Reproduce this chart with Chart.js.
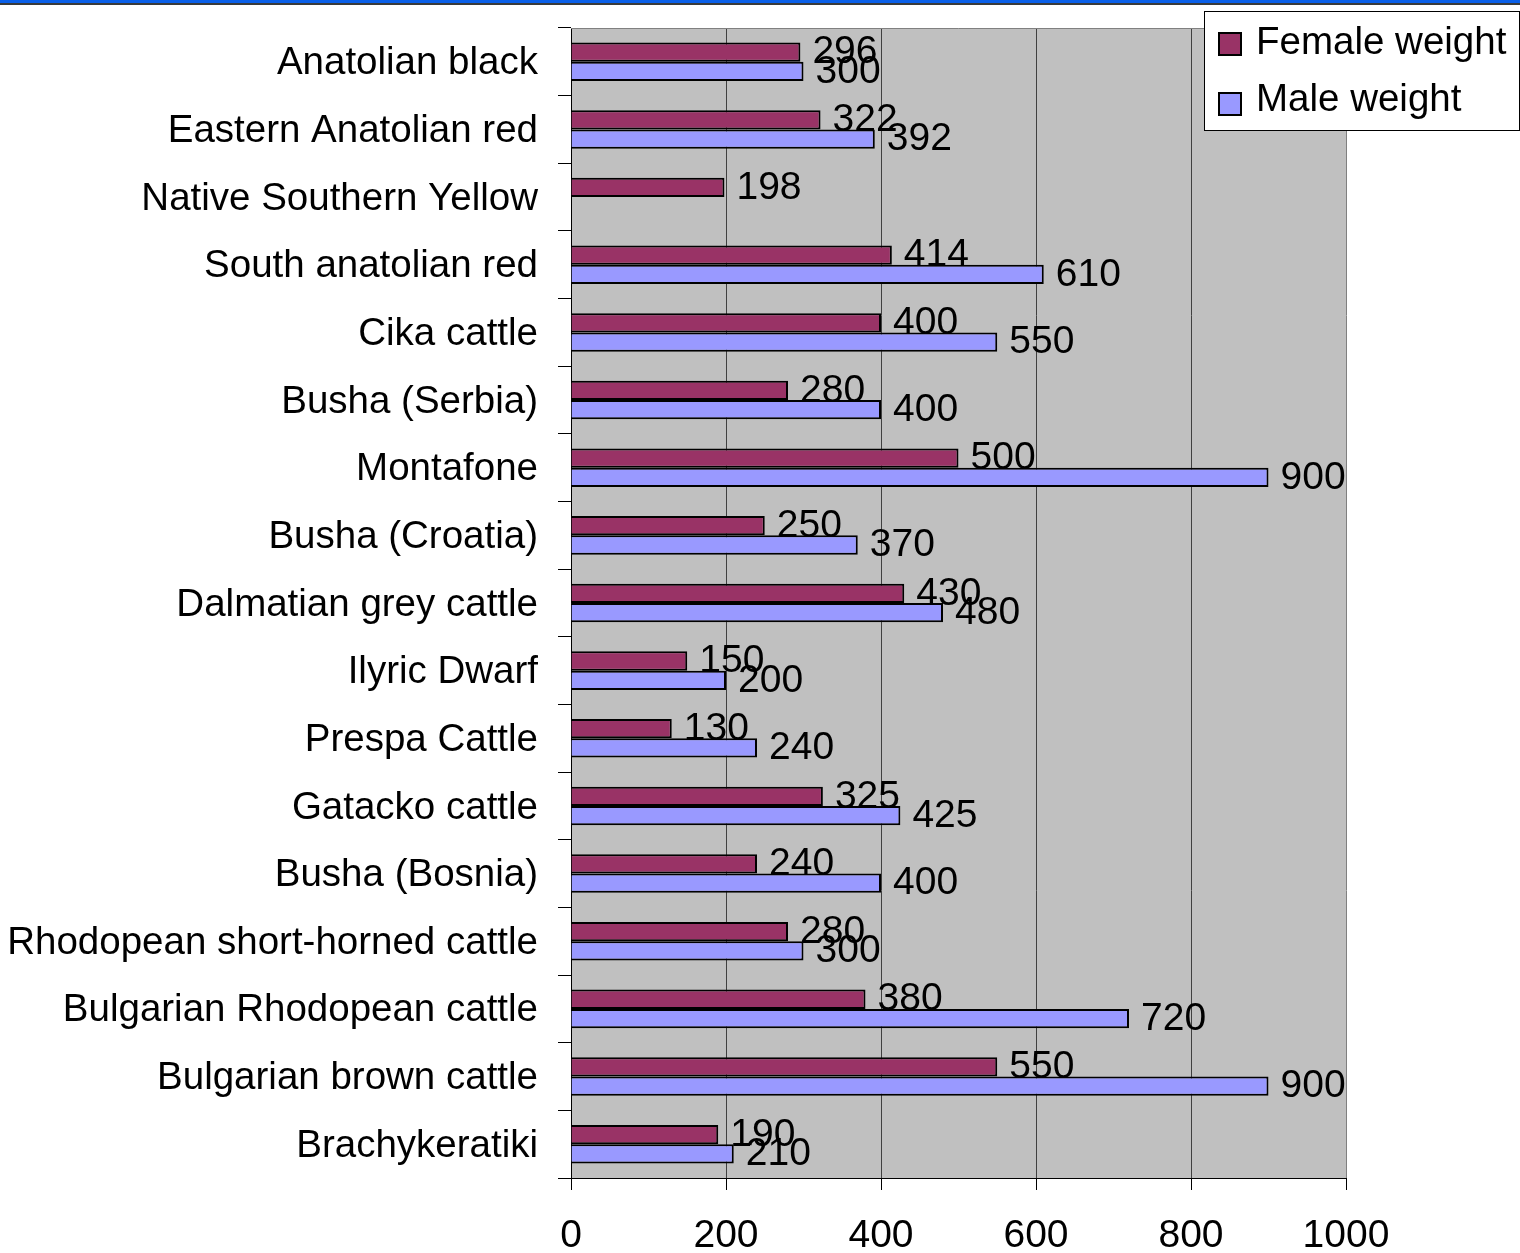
<!DOCTYPE html>
<html>
<head>
<meta charset="utf-8">
<script src="https://cdn.jsdelivr.net/npm/chart.js@4"></script>
<style>
  html, body { margin: 0; padding: 0; background: #ffffff; }
  canvas { display: block; }
</style>
</head>
<body>
<canvas id="c" width="1520" height="1253"></canvas>
<script>
const categories = [
  "Anatolian black", "Eastern Anatolian red", "Native Southern Yellow",
  "South anatolian red", "Cika cattle", "Busha (Serbia)", "Montafone",
  "Busha (Croatia)", "Dalmatian grey cattle", "Ilyric Dwarf", "Prespa Cattle",
  "Gatacko cattle", "Busha (Bosnia)", "Rhodopean short-horned cattle",
  "Bulgarian Rhodopean cattle", "Bulgarian brown cattle", "Brachykeratiki"
];
const femaleWeight = [296, 322, 198, 414, 400, 280, 500, 250, 430, 150, 130, 325, 240, 280, 380, 550, 190];
const maleWeight   = [300, 392, null, 610, 550, 400, 900, 370, 480, 200, 240, 425, 400, 300, 720, 900, 210];
const seriesNames = ["Female weight", "Male weight"];
const xTicks = [0, 200, 400, 600, 800, 1000];

const FONT = "Liberation Sans, Arial, sans-serif";
const COLORS = ["#993366", "#9999FF"];

const deco = {
  id: 'deco',
  beforeDraw(chart) {
    const ctx = chart.ctx, a = chart.chartArea;
    ctx.save();
    ctx.fillStyle = '#ffffff';
    ctx.fillRect(0, 0, chart.width, chart.height);
    ctx.fillStyle = '#C0C0C0';
    ctx.fillRect(a.left, a.top, a.right - a.left, a.bottom - a.top);
    // top window stripe
    ctx.fillStyle = '#0A5FE8';
    ctx.fillRect(0, 0, chart.width, 3);
    ctx.fillStyle = '#3a3a3a';
    ctx.fillRect(0, 3, chart.width, 2);
    ctx.restore();
  },
  afterDatasetsDraw(chart) {
    const ctx = chart.ctx;
    ctx.save();
    ctx.font = '39px ' + FONT;
    ctx.fillStyle = '#000000';
    ctx.textAlign = 'left';
    ctx.textBaseline = 'middle';
    chart.data.datasets.forEach((ds, di) => {
      const meta = chart.getDatasetMeta(di);
      meta.data.forEach((el, i) => {
        const v = ds.data[i];
        if (v === null || v === undefined) return;
        ctx.fillText(String(v), el.x + 12, el.y + 0.5);
      });
    });
    ctx.restore();
  },
  afterDraw(chart) {
    const ctx = chart.ctx, a = chart.chartArea;
    ctx.save();
    // top border of plot area
    ctx.strokeStyle = '#808080';
    ctx.lineWidth = 1;
    ctx.beginPath();
    ctx.moveTo(a.left, a.top + 0.5);
    ctx.lineTo(a.right, a.top + 0.5);
    ctx.stroke();
    // legend
    const lx = 1204.5, ly = 11.5, lw = 315, lh = 119;
    ctx.fillStyle = '#ffffff';
    ctx.fillRect(lx, ly, lw, lh);
    ctx.strokeStyle = '#000000';
    ctx.lineWidth = 1;
    ctx.strokeRect(lx, ly, lw, lh);
    const rows = [44, 104];
    chart.data.datasets.forEach((ds, di) => {
      const cy = rows[di];
      ctx.fillStyle = ds.backgroundColor;
      ctx.fillRect(1219, cy - 11, 22, 22);
      ctx.strokeStyle = '#000000';
      ctx.lineWidth = 2;
      ctx.strokeRect(1219, cy - 11, 22, 22);
      ctx.fillStyle = '#000000';
      ctx.font = '38.5px ' + FONT;
      ctx.textAlign = 'left';
      ctx.textBaseline = 'middle';
      ctx.fillText(ds.label, 1256, cy - 1 - di * 3);
    });
    ctx.restore();
  }
};

new Chart(document.getElementById('c'), {
  type: 'bar',
  data: {
    labels: categories,
    datasets: [
      { label: seriesNames[0], data: femaleWeight, backgroundColor: COLORS[0], borderColor: '#000000', borderWidth: 2, borderSkipped: 'start', categoryPercentage: 0.57, barPercentage: 1.0 },
      { label: seriesNames[1], data: maleWeight, backgroundColor: COLORS[1], borderColor: '#000000', borderWidth: 2, borderSkipped: 'start', categoryPercentage: 0.57, barPercentage: 1.0 }
    ]
  },
  options: {
    indexAxis: 'y',
    responsive: false,
    animation: false,
    devicePixelRatio: 1,
    layout: { padding: { left: 0, right: 174, top: 28, bottom: 0 } },
    plugins: { legend: { display: false }, tooltip: { enabled: false } },
    scales: {
      y: {
        type: 'category',
        afterFit(scale) { scale.width = 571; scale.paddingTop = 0; scale.paddingBottom = 0; },
        ticks: { font: { family: FONT, size: 38.5 }, color: '#000000', padding: 20, autoSkip: false, labelOffset: 2 },
        grid: { drawOnChartArea: false, drawTicks: true, tickLength: 13, color: '#000000', offset: true },
        border: { color: '#000000', width: 1 }
      },
      x: {
        type: 'linear',
        min: 0, max: 1000,
        afterFit(scale) { scale.height = 75; scale.paddingLeft = 0; },
        afterBuildTicks(scale) { scale.ticks = xTicks.map(v => ({ value: v })); },
        ticks: { font: { family: FONT, size: 39 }, color: '#000000', padding: 23, maxRotation: 0,
                 callback: (v) => String(v) },
        grid: {
          color: (c) => (c.tick && c.tick.value === 1000) ? '#808080' : '#404040',
          tickColor: '#000000',
          tickLength: 12,
          lineWidth: 1
        },
        border: { color: '#000000', width: 1 }
      }
    }
  },
  plugins: [deco]
});
</script>
</body>
</html>
